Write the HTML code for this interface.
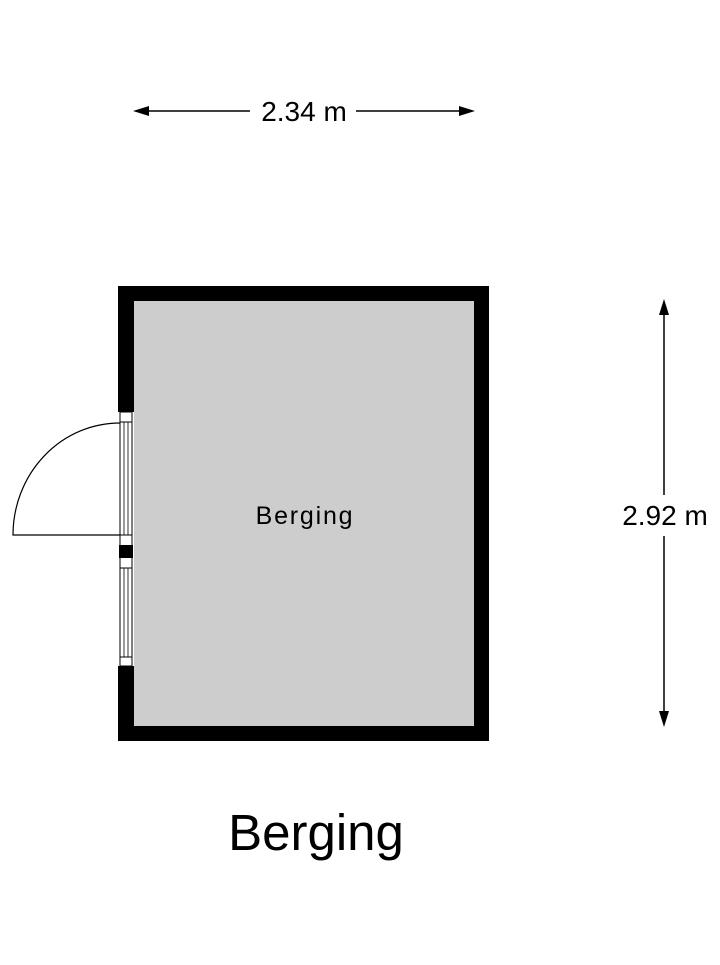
<!DOCTYPE html>
<html><head><style>body{margin:0;background:#fff}</style></head><body>
<svg width="720" height="960" viewBox="0 0 720 960" xmlns="http://www.w3.org/2000/svg" font-family="Liberation Sans, sans-serif">
<rect x="118" y="286" width="371" height="455" fill="#000"/>
<rect x="134" y="301" width="340" height="425" fill="#cdcdcd"/>
<rect x="118" y="412" width="16" height="254" fill="#fff"/>
<rect x="120" y="412" width="12" height="254" fill="none" stroke="#000" stroke-width="1"/>
<rect x="119" y="545" width="14" height="13" fill="#000"/>
<line x1="120" y1="422" x2="132" y2="422" stroke="#000"/>
<line x1="120" y1="535" x2="132" y2="535" stroke="#000"/>
<line x1="120" y1="568" x2="132" y2="568" stroke="#000"/>
<line x1="120" y1="657" x2="132" y2="657" stroke="#000"/>
<line x1="124" y1="422" x2="124" y2="535" stroke="#000" stroke-width="0.8"/>
<line x1="128" y1="422" x2="128" y2="535" stroke="#000" stroke-width="0.8"/>
<line x1="124" y1="568" x2="124" y2="657" stroke="#000" stroke-width="0.8"/>
<line x1="128" y1="568" x2="128" y2="657" stroke="#000" stroke-width="0.8"/>
<path d="M120 423 A107 112 0 0 0 13 535 L120 535" fill="none" stroke="#000" stroke-width="1.2"/>
<text x="305" y="524" font-size="25" letter-spacing="1.8" text-anchor="middle">Berging</text>
<text x="316" y="850" font-size="51" text-anchor="middle">Berging</text>
<line x1="145" y1="111" x2="250" y2="111" stroke="#000" stroke-width="1.5"/>
<line x1="356" y1="111" x2="462" y2="111" stroke="#000" stroke-width="1.5"/>
<polygon points="133,111 149,106 149,116" fill="#000"/>
<polygon points="475,111 459,106 459,116" fill="#000"/>
<text x="304" y="121" font-size="28" text-anchor="middle">2.34 m</text>
<line x1="664" y1="310" x2="664" y2="495" stroke="#000" stroke-width="1.5"/>
<line x1="664" y1="536" x2="664" y2="716" stroke="#000" stroke-width="1.5"/>
<polygon points="664,299 659,315 669,315" fill="#000"/>
<polygon points="664,727 659,711 669,711" fill="#000"/>
<text x="665" y="525" font-size="28" text-anchor="middle">2.92 m</text>
</svg>
</body></html>
